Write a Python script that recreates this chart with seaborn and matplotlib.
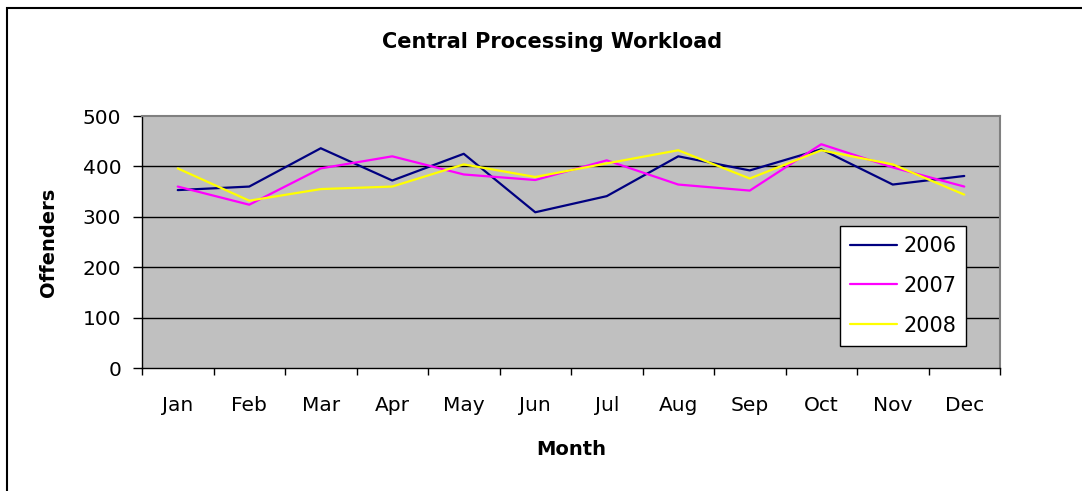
import numpy as np
import pandas as pd
import seaborn as sns
import matplotlib.pyplot as plt
from matplotlib.patches import Rectangle
from matplotlib.ticker import FixedLocator

months = ['Jan', 'Feb', 'Mar', 'Apr', 'May', 'Jun', 'Jul', 'Aug', 'Sep', 'Oct', 'Nov', 'Dec']
y2006 = [353, 360, 436, 372, 425, 309, 341, 420, 392, 434, 364, 381]
y2007 = [360, 324, 396, 420, 384, 373, 412, 364, 352, 444, 398, 360]
y2008 = [396, 332, 355, 360, 404, 379, 406, 432, 376, 432, 404, 344]
years = ['2006', '2007', '2008']
colors = ['#000080', '#FF00FF', '#FFFF00']

rows = []
for yr, vals in zip(years, [y2006, y2007, y2008]):
    for i, v in enumerate(vals):
        rows.append({'idx': i, 'Year': yr, 'Offenders': v})
df = pd.DataFrame(rows)

sns.set_style('white')
plt.rcParams['font.family'] = ['DejaVu Sans']
plt.rcParams['text.color'] = 'black'
plt.rcParams['axes.labelcolor'] = 'black'
plt.rcParams['xtick.color'] = 'black'
plt.rcParams['ytick.color'] = 'black'

fig = plt.figure(figsize=(10.82, 4.91), dpi=100)
ax = fig.add_axes([142/1082, 1-368/491, 858/1082, 252/491])

# outer chart frame (only top/left visible in the crop)
fig.patches.append(Rectangle((7/1082, -0.1), 1.2, 1 - 8/491 + 0.1, transform=fig.transFigure,
                             fill=False, edgecolor='black', lw=1.5, zorder=0))

ax.set_facecolor('#C0C0C0')
sns.lineplot(data=df, x='idx', y='Offenders', hue='Year', palette=colors, lw=1.6, ax=ax)

ax.set_xlim(-0.5, 11.5)
ax.set_ylim(0, 500)
ax.set_yticks(range(0, 501, 100))
ax.set_xticks(range(12))
ax.set_xticklabels(months)
ax.xaxis.set_minor_locator(FixedLocator(np.arange(-0.5, 12, 1)))
ax.tick_params(axis='x', which='major', length=0, pad=20, labelsize=14.5)
ax.tick_params(axis='x', which='minor', length=5, width=1, direction='out', color='black', bottom=True)
ax.tick_params(axis='y', length=6.5, width=1, direction='out', color='black', left=True, pad=8.5, labelsize=14.5)
for y in range(100, 500, 100):
    ax.axhline(y, color='black', lw=1, zorder=1)

for s in ['top', 'right']:
    ax.spines[s].set_color('#808080')
    ax.spines[s].set_linewidth(1.5)
for s in ['left', 'bottom']:
    ax.spines[s].set_color('black')
    ax.spines[s].set_linewidth(1)

ax.set_xlabel('Month', fontsize=14, fontweight='bold', labelpad=18)
ax.set_ylabel('Offenders', fontsize=14, fontweight='bold', labelpad=18)
fig.text(552/1082, 1-42/491, 'Central Processing Workload', ha='center', va='center',
         fontsize=15, fontweight='bold')

leg = ax.legend(loc='upper left', bbox_to_anchor=((840-142)/858, (368-226)/252), borderaxespad=0,
                fontsize=15, frameon=True, fancybox=False, edgecolor='black', framealpha=1,
                handlelength=2.25, handletextpad=0.3, labelspacing=0.95, borderpad=0.48)
leg.get_frame().set_linewidth(1)

fig.savefig('out.png', dpi=100)
